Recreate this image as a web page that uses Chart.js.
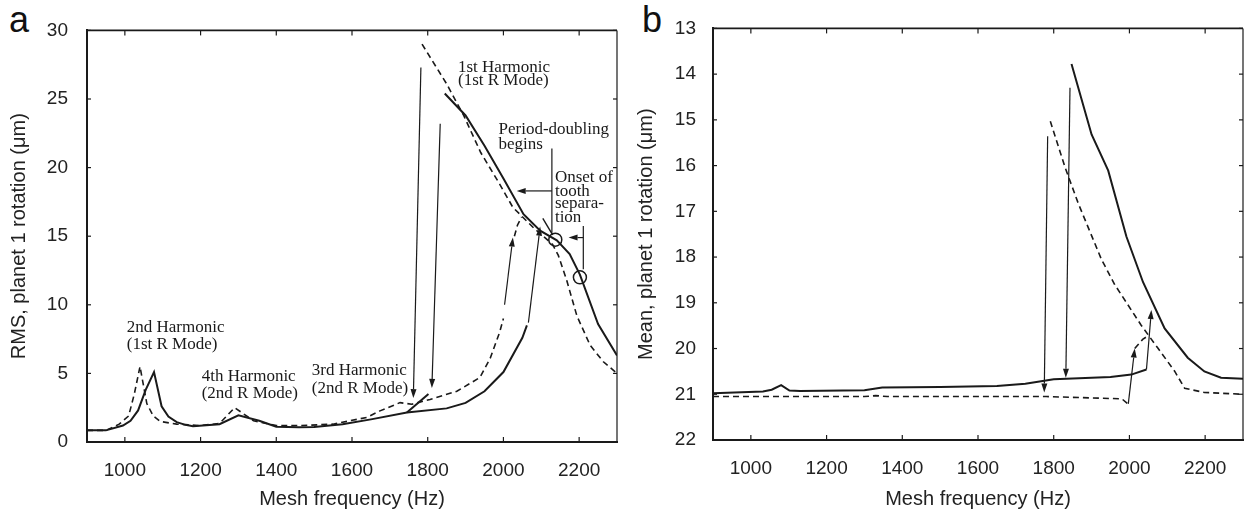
<!DOCTYPE html>
<html>
<head>
<meta charset="utf-8">
<script src="https://cdn.jsdelivr.net/npm/chart.js@4.4.1/dist/chart.umd.min.js"></script>
<style>
  body { margin: 0; background: #fff; width: 1251px; height: 516px; overflow: hidden; position: relative; }
  canvas { position: absolute; top: 0; }
  #chartA { left: 0; }
  #chartB { left: 630px; }
  .panel { position: absolute; top: 2px; font: 36px "Liberation Sans", Arial, sans-serif; line-height: 36px; color: #111; }
</style>
</head>
<body>
<div class="panel" style="left:9px">a</div>
<div class="panel" style="left:642px">b</div>
<canvas id="chartA" width="630" height="516"></canvas>
<canvas id="chartB" width="621" height="516"></canvas>
<script>
const freqTicks = [1000, 1200, 1400, 1600, 1800, 2000, 2200];
const rmsTicks = [0, 5, 10, 15, 20, 25, 30];
const meanTicks = [13, 14, 15, 16, 17, 18, 19, 20, 21, 22];

// (a) RMS, solid branches
const rmsSolidLowF = [900, 950, 995, 1015, 1035, 1055, 1077, 1097, 1115, 1137, 1160, 1180, 1250, 1300, 1355, 1400, 1460, 1500, 1575, 1650, 1745, 1850, 1900, 1950, 2000, 2050, 2062];
const rmsSolidLowV = [0.85, 0.85, 1.2, 1.55, 2.3, 3.8, 5.1, 2.6, 1.85, 1.45, 1.25, 1.15, 1.3, 1.95, 1.55, 1.12, 1.08, 1.1, 1.3, 1.65, 2.15, 2.45, 2.85, 3.7, 5.1, 7.6, 8.5];
const rmsSolidRiseF = [1745, 1802];
const rmsSolidRiseV = [2.15, 3.5];
const rmsSolidHighF = [1845, 1900, 1950, 2000, 2053, 2097, 2141, 2175, 2202, 2250, 2300];
const rmsSolidHighV = [25.4, 23.8, 21.6, 19.2, 16.6, 15.4, 14.7, 13.7, 12.2, 8.6, 6.3];
const rmsSolidStubF = [2104, 2130];
const rmsSolidStubV = [16.3, 15.1];

// (a) RMS, dashed branches
const rmsDashLowF = [900, 950, 985, 1010, 1025, 1040, 1058, 1075, 1093, 1137, 1200, 1250, 1290, 1340, 1400, 1465, 1550, 1640, 1674, 1727, 1758, 1806, 1877, 1938, 1965, 1990, 2000];
const rmsDashLowV = [0.85, 0.85, 1.3, 1.9, 3.5, 5.5, 2.8, 1.9, 1.5, 1.3, 1.2, 1.35, 2.5, 1.55, 1.2, 1.2, 1.3, 1.8, 2.27, 2.87, 2.75, 3.1, 3.7, 4.7, 6.1, 8.0, 9.0];
const rmsDashHighF = [1785, 1850, 1895, 1940, 1990, 2025, 2080, 2130, 2145, 2167, 2194, 2229, 2264, 2300];
const rmsDashHighV = [29.0, 26.1, 23.8, 21.1, 18.8, 17.1, 15.6, 14.4, 13.6, 11.8, 9.2, 7.05, 5.85, 5.0];
const rmsDashLobeF = [2029, 2037, 2048];
const rmsDashLobeV = [15.0, 15.8, 16.4];

const rmsCircleF = [2137, 2202];
const rmsCircleV = [14.75, 12.0];

// jump arrows [fromF, fromV, toF, toV]
const rmsArrows = [[1782, 27.3, 1762, 3.2], [1833, 23.2, 1811, 3.94], [2003, 10.0, 2025, 14.9], [2066, 8.7, 2097, 15.7], [2128, 18.3, 2035, 18.3], [2211, 14.9, 2172, 14.9]];
const rmsLeaders = [[2128, 21.4, 2128, 15.25], [2211, 15.75, 2211, 12.6]];

// (b) Mean
const meanSolidLowF = [900, 1032, 1055, 1080, 1102, 1130, 1300, 1347, 1500, 1650, 1725, 1800, 1950, 2005, 2045];
const meanSolidLowV = [20.98, 20.94, 20.9, 20.8, 20.92, 20.93, 20.91, 20.85, 20.84, 20.82, 20.77, 20.67, 20.62, 20.57, 20.46];
const meanSolidHighF = [1847, 1900, 1944, 1992, 2036, 2093, 2154, 2198, 2242, 2300];
const meanSolidHighV = [13.78, 15.32, 16.11, 17.55, 18.55, 19.56, 20.2, 20.5, 20.64, 20.66];
const meanDashLowF = [900, 1300, 1330, 1360, 1780, 1980, 1996];
const meanDashLowV = [21.05, 21.05, 21.03, 21.05, 21.05, 21.1, 21.21];
const meanDashHighF = [1791, 1830, 1865, 1926, 1961, 2031, 2075, 2119, 2146, 2198, 2300];
const meanDashHighV = [15.03, 16.04, 16.83, 18.05, 18.6, 19.49, 19.99, 20.49, 20.87, 20.96, 21.0];
const meanDashLobeF = [2014, 2035, 2053];
const meanDashLobeV = [20.0, 19.8, 19.7];
const meanArrows = [[1784, 15.36, 1775, 20.96], [1843, 14.3, 1832, 20.64], [1997, 21.21, 2014, 20.0], [2045, 20.46, 2058, 19.16]];

const ink = '#1a1a1a';

function pts(fs, vs) { return fs.map((f, i) => ({ x: f, y: vs[i] })); }
function solid(fs, vs, w) { return { data: pts(fs, vs), borderColor: ink, borderWidth: w || 2, pointRadius: 0, tension: 0 }; }
function dashed(fs, vs) { return { data: pts(fs, vs), borderColor: ink, borderWidth: 1.6, borderDash: [6, 4], pointRadius: 0, tension: 0 }; }

const decor = {
  id: 'decor',
  afterDatasetsDraw(chart, args, opts) {
    const { ctx, chartArea: a, scales: { x, y } } = chart;
    const line = (x1, y1, x2, y2) => { ctx.beginPath(); ctx.moveTo(x1, y1); ctx.lineTo(x2, y2); ctx.stroke(); };
    ctx.save();
    ctx.strokeStyle = ink;
    ctx.fillStyle = ink;
    ctx.lineWidth = 1.6;
    line(a.left, a.top, a.right, a.top);
    ctx.lineWidth = 1.2;
    line(a.right, a.top, a.right, a.bottom);
    freqTicks.forEach(v => {
      const px = x.getPixelForValue(v);
      line(px, a.bottom, px, a.bottom - 5);
      line(px, a.top, px, a.top + 5);
    });
    opts.yTicks.forEach(v => {
      const py = y.getPixelForValue(v);
      line(a.left, py, a.left + 4, py);
      line(a.right, py, a.right - 4, py);
    });
    ctx.lineWidth = 1.2;
    (opts.leaders || []).forEach(l => {
      line(x.getPixelForValue(l[0]), y.getPixelForValue(l[1]), x.getPixelForValue(l[2]), y.getPixelForValue(l[3]));
    });
    (opts.arrows || []).forEach(l => {
      const x1 = x.getPixelForValue(l[0]), y1 = y.getPixelForValue(l[1]);
      const x2 = x.getPixelForValue(l[2]), y2 = y.getPixelForValue(l[3]);
      const ang = Math.atan2(y2 - y1, x2 - x1);
      const len = 9, half = 3;
      const bx = x2 - len * Math.cos(ang), by = y2 - len * Math.sin(ang);
      line(x1, y1, bx, by);
      ctx.beginPath();
      ctx.moveTo(x2, y2);
      ctx.lineTo(bx - half * Math.sin(ang), by + half * Math.cos(ang));
      ctx.lineTo(bx + half * Math.sin(ang), by - half * Math.cos(ang));
      ctx.closePath();
      ctx.fill();
    });
    ctx.font = '17px "Liberation Serif", "Times New Roman", serif';
    ctx.textBaseline = 'alphabetic';
    ctx.textAlign = 'left';
    (opts.notes || []).forEach(n => {
      ctx.fillText(n.text, x.getPixelForValue(n.x), y.getPixelForValue(n.y));
    });
    ctx.restore();
  }
};

function axes(yMin, yMax, yTicks, yTitle, reverse, yWidth, xHeight, yPad, titlePad) {
  const tickFont = { family: '"Liberation Sans", Arial, sans-serif', size: 19 };
  const titleFont = { family: '"Liberation Sans", Arial, sans-serif', size: 20 };
  return {
    x: {
      type: 'linear', min: 900, max: 2300,
      afterBuildTicks: s => { s.ticks = freqTicks.map(v => ({ value: v })); },
      afterFit: s => { s.height = xHeight; },
      grid: { display: false, drawTicks: false },
      border: { display: true, color: ink, width: 2 },
      ticks: { color: '#222', font: tickFont, padding: 17, maxRotation: 0, callback: v => String(v) },
      title: { display: true, text: 'Mesh frequency (Hz)', color: '#222', font: titleFont, padding: { top: 0, bottom: 5 } }
    },
    y: {
      type: 'linear', min: yMin, max: yMax, reverse: reverse,
      afterBuildTicks: s => { s.ticks = yTicks.map(v => ({ value: v })); },
      afterFit: s => { s.width = yWidth; },
      grid: { display: false, drawTicks: false },
      border: { display: true, color: ink, width: 2 },
      ticks: { color: '#222', font: tickFont, padding: yPad, callback: v => String(v) },
      title: { display: true, text: yTitle, color: '#222', font: titleFont, padding: { top: titlePad, bottom: 0 } }
    }
  };
}

const common = {
  responsive: false,
  animation: false,
  devicePixelRatio: 1,
  plugins: { legend: { display: false }, tooltip: { enabled: false } }
};

new Chart(document.getElementById('chartA'), {
  type: 'line',
  data: {
    datasets: [
      solid(rmsSolidLowF, rmsSolidLowV),
      solid(rmsSolidRiseF, rmsSolidRiseV),
      solid(rmsSolidHighF, rmsSolidHighV),
      solid(rmsSolidStubF, rmsSolidStubV, 1.4),
      dashed(rmsDashLowF, rmsDashLowV),
      dashed(rmsDashHighF, rmsDashHighV),
      dashed(rmsDashLobeF, rmsDashLobeV),
      { data: pts(rmsCircleF, rmsCircleV), showLine: false, pointRadius: 6.5, pointBorderWidth: 1.5,
        pointBackgroundColor: 'rgba(0,0,0,0)', pointBorderColor: ink }
    ]
  },
  options: Object.assign({}, common, {
    layout: { padding: { top: 23, right: 13, left: 0, bottom: 0 } },
    scales: axes(0, 30, rmsTicks, 'RMS, planet 1 rotation (\u03bcm)', false, 87, 74, 19, 7.5),
    plugins: Object.assign({}, common.plugins, {
      decor: {
        yTicks: rmsTicks, arrows: rmsArrows, leaders: rmsLeaders,
        notes: [
          { text: '1st Harmonic', x: 1880, y: 27.0 },
          { text: '(1st R Mode)', x: 1880, y: 26.0 },
          { text: 'Period-doubling', x: 1987, y: 22.45 },
          { text: 'begins', x: 1987, y: 21.38 },
          { text: 'Onset of', x: 2136, y: 18.94 },
          { text: 'tooth', x: 2136, y: 17.96 },
          { text: 'separa-', x: 2136, y: 17.03 },
          { text: 'tion', x: 2136, y: 16.07 },
          { text: '2nd Harmonic', x: 1005, y: 8.0 },
          { text: '(1st R Mode)', x: 1005, y: 6.76 },
          { text: '4th Harmonic', x: 1203, y: 4.42 },
          { text: '(2nd R Mode)', x: 1203, y: 3.22 },
          { text: '3rd Harmonic', x: 1494, y: 4.9 },
          { text: '(2nd R Mode)', x: 1494, y: 3.58 }
        ]
      }
    })
  }),
  plugins: [decor]
});

new Chart(document.getElementById('chartB'), {
  type: 'line',
  data: {
    datasets: [
      solid(meanSolidLowF, meanSolidLowV),
      solid(meanSolidHighF, meanSolidHighV),
      dashed(meanDashLowF, meanDashLowV),
      dashed(meanDashHighF, meanDashHighV),
      dashed(meanDashLobeF, meanDashLobeV)
    ]
  },
  options: Object.assign({}, common, {
    layout: { padding: { top: 22, right: 8, left: 0, bottom: 0 } },
    scales: axes(13, 22, meanTicks, 'Mean, planet 1 rotation (\u03bcm)', true, 83, 76, 17, 4),
    plugins: Object.assign({}, common.plugins, {
      decor: { yTicks: meanTicks, arrows: meanArrows }
    })
  }),
  plugins: [decor]
});
</script>
</body>
</html>
